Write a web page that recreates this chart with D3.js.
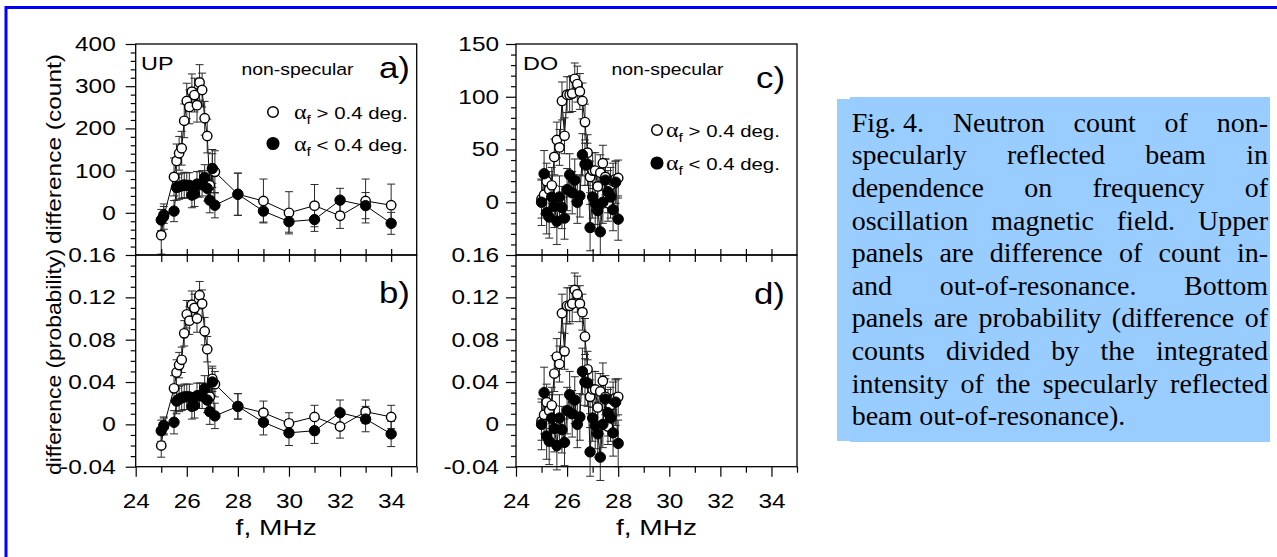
<!DOCTYPE html>
<html>
<head>
<meta charset="utf-8">
<script src="https://cdnjs.cloudflare.com/ajax/libs/d3/7.8.5/d3.min.js"></script>
<style>
body { margin: 0; background: #fff; }
svg text { font-family: "Liberation Sans", Arial, sans-serif; }
</style>
</head>
<body>
<svg id="fig" width="1277" height="557"></svg>
<script>
// ---- data ----
var fDomain = [24, 35];
var fMajor = [24, 26, 28, 30, 32, 34];

// UP sample
var upFreq = [25.0, 25.1, 25.5, 25.6, 25.7, 25.8, 25.9, 26.0, 26.1, 26.2, 26.3, 26.4, 26.5, 26.6, 26.7, 26.8, 26.9, 27.0, 27.1, 28, 29, 30, 31, 32, 33, 34];
var upCountHi    = [-53, -9, 85, 123, 141, 153, 218, 265, 251, 287, 279, 255, 309, 291, 224, 182, 65, 105, 97, 44, 28, 0, 17, -7, 28, 18];
var upCountHiErr = [45, 30, 45, 40, 40, 40, 40, 42, 40, 42, 40, 40, 42, 40, 40, 40, 35, 45, 50, 50, 52, 50, 50, 30, 52, 50];
var upCountLo    = [-17, -5, 4, 60, 62, 64, 66, 65, 65, 42, 45, 68, 67, 70, 84, 58, 30, 105, 18, 44, 4, -21, -16, 30, 17, -25];
var upCountLoErr = [25, 20, 25, 30, 30, 30, 30, 30, 30, 30, 30, 30, 30, 30, 30, 30, 30, 35, 30, 50, 26, 25, 28, 28, 31, 26];
var upProbHi     = [-0.020, -0.002, 0.034, 0.049, 0.056, 0.061, 0.086, 0.104, 0.098, 0.113, 0.110, 0.100, 0.122, 0.114, 0.088, 0.071, 0.026, 0.043, 0.038, 0.017, 0.011, 0.001, 0.007, -0.002, 0.012, 0.007];
var upProbHiErr  = [0.011, 0.008, 0.012, 0.012, 0.012, 0.012, 0.012, 0.013, 0.013, 0.013, 0.013, 0.013, 0.013, 0.013, 0.013, 0.012, 0.010, 0.012, 0.012, 0.012, 0.011, 0.010, 0.011, 0.011, 0.011, 0.011];
var upProbLo     = [-0.006, -0.001, 0.002, 0.022, 0.024, 0.025, 0.026, 0.026, 0.026, 0.017, 0.018, 0.027, 0.027, 0.027, 0.034, 0.023, 0.012, 0.040, 0.008, 0.017, 0.002, -0.008, -0.006, 0.011, 0.005, -0.009];
var upProbLoErr  = [0.010, 0.008, 0.011, 0.012, 0.012, 0.012, 0.012, 0.012, 0.012, 0.012, 0.012, 0.012, 0.012, 0.012, 0.012, 0.012, 0.012, 0.013, 0.012, 0.012, 0.012, 0.012, 0.012, 0.012, 0.012, 0.012];

// DO sample
var doFreq = [25.0, 25.1, 25.2, 25.3, 25.4, 25.5, 25.6, 25.7, 25.8, 25.9, 26.0, 26.1, 26.2, 26.3, 26.4, 26.5, 26.6, 26.7, 26.8, 26.9, 27.0, 27.1, 27.2, 27.3, 27.4, 27.5, 27.6, 27.7, 27.8, 27.9, 28.0];
var doCountHi    = [3, 7, 20, 12, 16, 43, 59, 52, 96, 63, 102, 102, 103, 117, 112, 105, 96, 76, 47, 24, 30, 30, 15, 28, 37, 24, -1, 16, 20, 22, 23];
var doCountHiErr = [18, 18, 17, 17, 17, 17, 17, 17, 18, 17, 17, 17, 17, 15, 17, 17, 17, 17, 17, 15, 17, 17, 17, 17, 17, 17, 17, 17, 17, 17, 17];
var doCountLo    = [0, 27, -10, -14, 5, -4, -18, 5, -5, -15, 12, 26, 9, 21, 0, 6, 45, 36, 36, -24, 5, -1, -8, -28, 0, 21, 10, 5, -7, 19, -16];
var doCountLoErr = [22, 22, 20, 20, 20, 20, 22, 20, 20, 20, 20, 20, 20, 20, 20, 20, 20, 20, 20, 22, 20, 20, 20, 22, 20, 20, 20, 20, 20, 20, 20];
var doProbHi     = [0.003, 0.009, 0.021, 0.013, 0.018, 0.048, 0.064, 0.057, 0.105, 0.069, 0.112, 0.112, 0.114, 0.127, 0.123, 0.114, 0.106, 0.083, 0.052, 0.026, 0.033, 0.033, 0.016, 0.031, 0.041, 0.026, -0.002, 0.018, 0.023, 0.025, 0.026];
var doProbHiErr  = [0.018, 0.018, 0.017, 0.017, 0.017, 0.017, 0.017, 0.017, 0.018, 0.017, 0.017, 0.017, 0.017, 0.016, 0.017, 0.017, 0.017, 0.017, 0.017, 0.016, 0.017, 0.017, 0.017, 0.017, 0.017, 0.017, 0.017, 0.017, 0.017, 0.017, 0.017];
var doProbLo     = [0, 0.030, -0.011, -0.016, 0.006, -0.004, -0.020, 0.006, -0.005, -0.017, 0.013, 0.028, 0.010, 0.023, 0, 0.007, 0.050, 0.040, 0.039, -0.026, 0.006, -0.001, -0.009, -0.031, 0, 0.024, 0.011, 0.006, -0.008, 0.021, -0.018];
var doProbLoErr  = [0.024, 0.024, 0.022, 0.022, 0.022, 0.022, 0.023, 0.022, 0.022, 0.022, 0.022, 0.022, 0.022, 0.022, 0.022, 0.022, 0.022, 0.022, 0.022, 0.023, 0.022, 0.022, 0.022, 0.022, 0.022, 0.022, 0.022, 0.022, 0.022, 0.022, 0.022];

var countTicksUp = [0, 100, 200, 300, 400];
var countTicksDo = [0, 50, 100, 150];
var probTicks = [-0.04, 0, 0.04, 0.08, 0.12, 0.16];
var legendText = ["> 0.4 deg.", "< 0.4 deg."];

var captionLines = [
    "Fig. 4.|Neutron|count|of|non-",
    "specularly|reflected|beam|in",
    "dependence|on|frequency|of",
    "oscillation|magnetic|field.|Upper",
    "panels|are|difference|of|count|in-",
    "and|out-of-resonance.|Bottom",
    "panels|are|probability|(difference|of",
    "counts|divided|by|the|integrated",
    "intensity|of|the|specularly|reflected",
    "beam|out-of-resonance)."
];

// ---- drawing ----
var svg = d3.select("#fig");
var TX = 1.22; // the figure's lettering is wide
var locale = d3.formatLocale({ decimal: ".", thousands: ",", grouping: [3], currency: ["", ""], minus: "-" });

// blue page border (right & bottom run off the picture)
svg.append("rect")
    .attr("x", 6).attr("y", 7.5)
    .attr("width", 1320).attr("height", 600)
    .attr("fill", "none").attr("stroke", "#0000ff").attr("stroke-width", 3);

var xL = d3.scaleLinear().domain(fDomain).range([135.7, 416.7]);
var xR = d3.scaleLinear().domain(fDomain).range([516, 797]);
var yUpCount = d3.scaleLinear().domain([-100, 400]).range([255, 44]);
var yDoCount = d3.scaleLinear().domain([-50, 150]).range([255, 44]);
var yProb = d3.scaleLinear().domain([-0.04, 0.16]).range([466.7, 255]);

var probFmt = function(d) { return d === 0 ? "0" : locale.format(".2f")(d); };
var intFmt = locale.format("d");

function styleAxis(g) {
    g.select(".domain").remove();
    g.selectAll("line").attr("stroke", "#000").attr("stroke-width", 1.2);
}

function leftAxis(x0, y, majors, minors, fmt, gap) {
    var gm = svg.append("g").attr("transform", "translate(" + x0 + ",0)")
        .call(d3.axisLeft(y).tickValues(minors).tickSize(5).tickFormat(""));
    styleAxis(gm);
    var g = svg.append("g").attr("transform", "translate(" + x0 + ",0)")
        .call(d3.axisLeft(y).tickValues(majors).tickSize(10).tickFormat(fmt));
    styleAxis(g);
    g.selectAll("text")
        .attr("x", -gap / TX)
        .attr("transform", "scale(" + TX + ",1)")
        .attr("font-size", 20)
        .attr("fill", "#000");
}

function bottomAxes(x, yb, ym) {
    var minors = d3.range(25, 36, 2);
    var gm = svg.append("g").attr("transform", "translate(0," + yb + ")")
        .call(d3.axisBottom(x).tickValues(minors).tickSize(6).tickFormat(""));
    styleAxis(gm);
    var g = svg.append("g").attr("transform", "translate(0," + yb + ")")
        .call(d3.axisBottom(x).tickValues(fMajor).tickSize(10).tickFormat(intFmt));
    styleAxis(g);
    g.selectAll(".tick text")
        .attr("y", 41.5)
        .attr("dy", 0)
        .attr("transform", "scale(" + TX + ",1)")
        .attr("font-size", 20)
        .attr("fill", "#000");
    // ticks across the shared boundary between the two panels
    var inner = d3.range(25, 35);
    var gu = svg.append("g").attr("transform", "translate(0," + ym + ")")
        .call(d3.axisTop(x).tickValues(inner).tickSize(6).tickFormat(""));
    styleAxis(gu);
    var gd = svg.append("g").attr("transform", "translate(0," + ym + ")")
        .call(d3.axisBottom(x).tickValues(inner).tickSize(7).tickFormat(""));
    styleAxis(gd);

    svg.append("text")
        .attr("transform", "translate(" + d3.mean(x.range()) + ",535) scale(1.25,1)")
        .attr("text-anchor", "middle")
        .attr("font-size", 22.5)
        .text("f, MHz");
}

function frame(x, y) {
    svg.append("rect")
        .attr("x", x.range()[0]).attr("y", y.range()[1])
        .attr("width", x.range()[1] - x.range()[0])
        .attr("height", y.range()[0] - y.range()[1])
        .attr("fill", "none").attr("stroke", "#000").attr("stroke-width", 1.3);
}

function points(freq, vals, errs) {
    return freq.map(function(f, i) { return { f: f, v: vals[i], e: errs[i] }; });
}

function drawPanel(x, y, hi, lo) {
    var g = svg.append("g");
    var line = d3.line().x(function(d) { return x(d.f); }).y(function(d) { return y(d.v); });
    [hi, lo].forEach(function(pts) {
        g.append("path").datum(pts)
            .attr("d", line)
            .attr("fill", "none").attr("stroke", "#000").attr("stroke-width", 1);
    });
    [hi, lo].forEach(function(pts) {
        var eb = g.selectAll(null).data(pts).enter().append("g")
            .attr("stroke", "#2a2a2a").attr("stroke-width", 1);
        eb.append("line")
            .attr("x1", function(d) { return x(d.f); }).attr("x2", function(d) { return x(d.f); })
            .attr("y1", function(d) { return y(d.v - d.e); }).attr("y2", function(d) { return y(d.v + d.e); });
        eb.append("line")
            .attr("x1", function(d) { return x(d.f) - 4; }).attr("x2", function(d) { return x(d.f) + 4; })
            .attr("y1", function(d) { return y(d.v + d.e); }).attr("y2", function(d) { return y(d.v + d.e); });
        eb.append("line")
            .attr("x1", function(d) { return x(d.f) - 4; }).attr("x2", function(d) { return x(d.f) + 4; })
            .attr("y1", function(d) { return y(d.v - d.e); }).attr("y2", function(d) { return y(d.v - d.e); });
    });
    g.selectAll(null).data(hi).enter().append("circle")
        .attr("cx", function(d) { return x(d.f); })
        .attr("cy", function(d) { return y(d.v); })
        .attr("r", 4.7)
        .attr("fill", "#fff").attr("stroke", "#000").attr("stroke-width", 1.4);
    g.selectAll(null).data(lo).enter().append("circle")
        .attr("cx", function(d) { return x(d.f); })
        .attr("cy", function(d) { return y(d.v); })
        .attr("r", 5.2)
        .attr("fill", "#000").attr("stroke", "#000").attr("stroke-width", 1);
}

function label(txt, x, y, size, sx) {
    svg.append("text")
        .attr("transform", "translate(" + x + "," + y + ") scale(" + sx + ",1)")
        .attr("font-size", size)
        .text(txt);
}

function legend(cx, cy, tx, dyRow) {
    legendText.forEach(function(t, i) {
        var y = cy + i * dyRow;
        svg.append("circle")
            .attr("cx", cx).attr("cy", y).attr("r", i === 0 ? 5.3 : 5.8)
            .attr("fill", i === 0 ? "#fff" : "#000")
            .attr("stroke", "#000").attr("stroke-width", 1.5);
        var te = svg.append("text")
            .attr("transform", "translate(" + tx + "," + (y + 7) + ") scale(1.2,1)")
            .attr("font-size", 17);
        te.append("tspan").style("font-family", "'Liberation Serif', serif").attr("font-size", 20).text("\u03b1");
        te.append("tspan").attr("font-size", 13).attr("dy", 5).text("f");
        te.append("tspan").attr("dy", -5).text(" " + t);
    });
}

function yTitle(txt, yc, len) {
    svg.append("text")
        .attr("transform", "translate(61," + yc + ") rotate(-90)")
        .attr("text-anchor", "middle").attr("font-size", 19.5)
        .attr("textLength", len).attr("lengthAdjust", "spacingAndGlyphs")
        .text(txt);
}

// panels
drawPanel(xL, yUpCount, points(upFreq, upCountHi, upCountHiErr), points(upFreq, upCountLo, upCountLoErr));
drawPanel(xL, yProb, points(upFreq, upProbHi, upProbHiErr), points(upFreq, upProbLo, upProbLoErr));
drawPanel(xR, yDoCount, points(doFreq, doCountHi, doCountHiErr), points(doFreq, doCountLo, doCountLoErr));
drawPanel(xR, yProb, points(doFreq, doProbHi, doProbHiErr), points(doFreq, doProbLo, doProbLoErr));

frame(xL, yUpCount); frame(xL, yProb);
frame(xR, yDoCount); frame(xR, yProb);

var probMinor = d3.range(-4, 16).filter(function(k) { return k % 4 !== 0; }).map(function(k) { return k / 100; });
leftAxis(135.7, yUpCount, countTicksUp, d3.range(-80, 400, 20).filter(function(v) { return v % 100 !== 0; }), intFmt, 20);
leftAxis(135.7, yProb, probTicks, probMinor, probFmt, 20);
leftAxis(516, yDoCount, countTicksDo, d3.range(-40, 150, 10).filter(function(v) { return v % 50 !== 0; }), intFmt, 17);
leftAxis(516, yProb, probTicks, probMinor, probFmt, 17);

bottomAxes(xL, 466.7, 255);
bottomAxes(xR, 466.7, 255);

// axis titles
yTitle("difference (count)", 149, 190);
yTitle("difference (probability)", 362, 226);

// in-panel lettering
label("UP", 141, 70, 18, 1.3);
label("non-specular", 241.5, 74.5, 17, 1.14);
label("a)", 379, 78, 29, 1.2);
label("b)", 379, 303, 29, 1.2);
label("DO", 523, 70, 18, 1.3);
label("non-specular", 611.5, 75, 17, 1.14);
label("c)", 756, 88, 29, 1.2);
label("d)", 754, 304, 29, 1.2);

legend(273, 112, 294, 31.5);
legend(657, 130, 666, 33);

// caption box
var capG = svg.append("g");
capG.append("rect").attr("x", 837).attr("y", 99).attr("width", 20).attr("height", 342).attr("fill", "#9ccdff");
capG.append("rect").attr("x", 850).attr("y", 97).attr("width", 420).attr("height", 345).attr("fill", "#99ccff");
var capLeft = 851.7, capRight = 1268;
captionLines.forEach(function(line, i) {
    var words = line.split("|");
    var y = 131.7 + i * 32.6;
    var nodes = words.map(function(w) {
        return capG.append("text")
            .attr("y", y)
            .style("font-family", "'Liberation Serif', 'Times New Roman', serif")
            .attr("font-size", 28)
            .attr("fill", "#000")
            .text(w);
    });
    var widths = nodes.map(function(n) { return n.node().getComputedTextLength(); });
    var total = d3.sum(widths);
    var gapW = (i === captionLines.length - 1 || words.length < 2) ? 7 : (capRight - capLeft - total) / (words.length - 1);
    var xPos = capLeft;
    nodes.forEach(function(n, k) {
        n.attr("x", xPos);
        xPos += widths[k] + gapW;
    });
});
</script>
</body>
</html>
